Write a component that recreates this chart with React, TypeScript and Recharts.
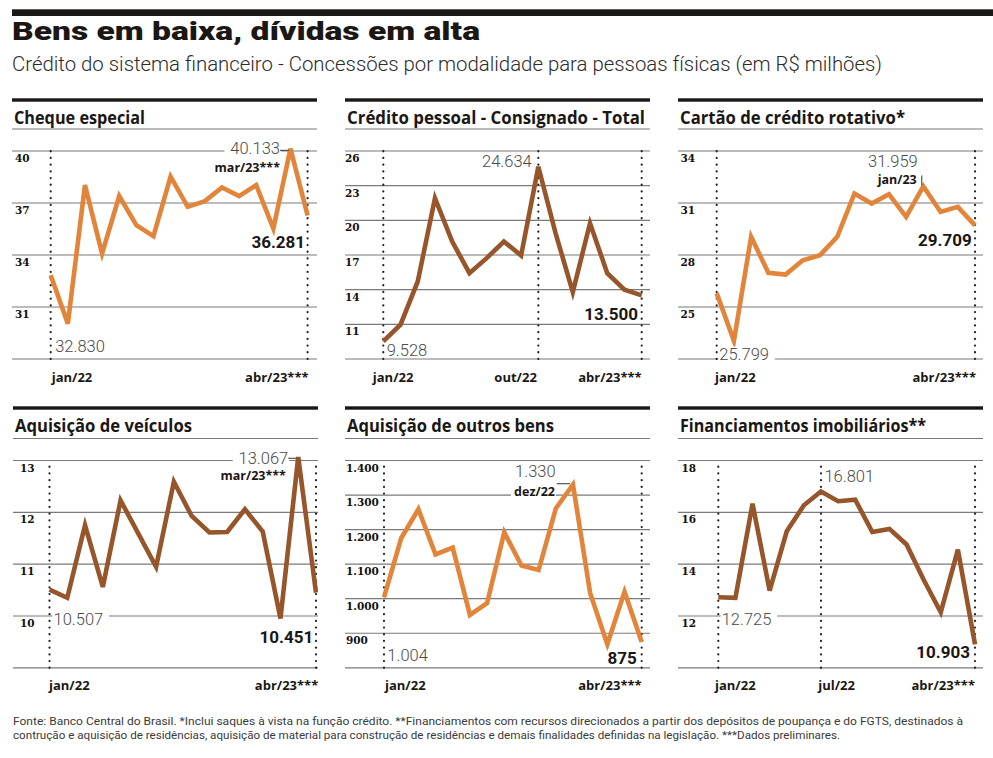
import React from 'react';
import { LineChart, Line, XAxis, YAxis, CartesianGrid, ReferenceLine } from 'recharts';

// ---------- data (R$ millions) ----------
const months = ['jan/22', 'fev/22', 'mar/22', 'abr/22', 'mai/22', 'jun/22', 'jul/22', 'ago/22', 'set/22', 'out/22', 'nov/22', 'dez/22', 'jan/23', 'fev/23', 'mar/23', 'abr/23'];
const preliminaryMonths = ['mar/23', 'abr/23'];

const chequeEspecial = [32830, 30040, 38030, 34080, 37400, 35720, 35090, 38520, 36780, 37110, 37900, 37400, 38030, 35530, 40133, 36281];
const creditoPessoal = [9528, 10970, 14710, 21910, 18170, 15430, 16730, 18170, 16960, 24634, 18890, 13790, 19750, 15430, 14000, 13500];
const cartaoRotativo = [25799, 23040, 29050, 26970, 26870, 27700, 27990, 29050, 31550, 30970, 31510, 30200, 31959, 30490, 30780, 29709];
const veiculos = [10507, 10350, 11750, 10560, 12230, 11590, 10950, 12590, 11930, 11610, 11620, 12060, 11630, 9950, 13067, 10451];
const outrosBens = [1004, 1175, 1259, 1128, 1148, 953, 987, 1192, 1096, 1083, 1261, 1330, 1016, 868, 1020, 875];
const imobiliarios = [12725, 12700, 16330, 12980, 15270, 16270, 16801, 16430, 16490, 15240, 15360, 14760, 13400, 12140, 14560, 10903];

const chequeTicks = [28000, 31000, 34000, 37000, 40000];
const pessoalTicks = [8000, 11000, 14000, 17000, 20000, 23000, 26000];
const cartaoTicks = [22000, 25000, 28000, 31000, 34000];
const veiculosTicks = [9000, 10000, 11000, 12000, 13000];
const outrosTicks = [800, 900, 1000, 1100, 1200, 1300, 1400];
const imobTicks = [10000, 12000, 14000, 16000, 18000];

// ---------- styles ----------
const ORANGE = '#E2843A';
const BROWN = '#96552A';
const INK = '#1a1714';

const fmt = (n: number) => String(Math.round(n)).replace(/\B(?=(\d{3})+(?!\d))/g, '.');
const monthLabel = (m: string) => m + (preliminaryMonths.includes(m) ? '***' : '');

const ROWS = [
  { rule: 100, gridTop: 151, gridBot: 359, titleY: 124 },
  { rule: 407.5, gridTop: 460, gridBot: 667.3, titleY: 431.7 },
];

const PANEL_W = 305;
const CHART_H = 300;
const HEAD = 22;
const XAX_H = 30;

type Ann = {
  i: number;
  kind: 'light' | 'bold' | 'small';
  anchor: 'start' | 'end';
  dx: number;
  dy?: number;
  bottom?: number;
  bg?: boolean;
  h?: [number, number, number];
  v?: [number, number, number];
};

type XLab = { m: string; anchor: 'start' | 'end'; dx: number };

type Cfg = {
  title: string;
  titleLen: number;
  left: number;
  row: number;
  series: number[];
  ticks: number[];
  div: number;
  color: string;
  padL: number;
  padR: number;
  tickDx: number;
  vlines: string[];
  xlabels: XLab[];
  anns: Ann[];
};

const panels: Cfg[] = [
  {
    title: 'Cheque especial', titleLen: 131, left: 12, row: 0, series: chequeEspecial, ticks: chequeTicks, div: 1000,
    color: ORANGE, padL: 38.7, padR: 9.4, tickDx: 3,
    vlines: ['jan/22', 'abr/23'],
    xlabels: [{ m: 'jan/22', anchor: 'start', dx: 1 }, { m: 'abr/23', anchor: 'end', dx: 1 }],
    anns: [
      { i: 0, kind: 'light', anchor: 'start', dx: 4.5, bottom: -7 },
      { i: 14, kind: 'light', anchor: 'end', dx: -10.5, dy: 5.5, bg: true, h: [-10.5, -1.5, 1.7] },
      { i: 14, kind: 'small', anchor: 'end', dx: -10.5, dy: 23 },
      { i: 15, kind: 'bold', anchor: 'end', dx: -2.5, dy: 33 },
    ],
  },
  {
    title: 'Crédito pessoal - Consignado - Total', titleLen: 298, left: 345, row: 0, series: creditoPessoal, ticks: pessoalTicks, div: 1000,
    color: BROWN, padL: 38.3, padR: 8.3, tickDx: 0,
    vlines: ['jan/22', 'out/22', 'abr/23'],
    xlabels: [{ m: 'jan/22', anchor: 'start', dx: -10.5 }, { m: 'out/22', anchor: 'end', dx: -1.5 }, { m: 'abr/23', anchor: 'end', dx: 0 }],
    anns: [
      { i: 0, kind: 'light', anchor: 'start', dx: 3.4, bottom: -3.5 },
      { i: 9, kind: 'light', anchor: 'end', dx: -6.6, dy: 0.7 },
      { i: 15, kind: 'bold', anchor: 'end', dx: -3.7, dy: 24.6 },
    ],
  },
  {
    title: 'Cartão de crédito rotativo*', titleLen: 225, left: 678, row: 0, series: cartaoRotativo, ticks: cartaoTicks, div: 1000,
    color: ORANGE, padL: 38.7, padR: 8, tickDx: 2.5,
    vlines: ['jan/22', 'abr/23'],
    xlabels: [{ m: 'jan/22', anchor: 'start', dx: -1.7 }, { m: 'abr/23', anchor: 'end', dx: 1 }],
    anns: [
      { i: 0, kind: 'light', anchor: 'start', dx: 2.6, bottom: 0.5, bg: true },
      { i: 12, kind: 'light', anchor: 'end', dx: -5.6, dy: -19.8 },
      { i: 12, kind: 'small', anchor: 'end', dx: -6.6, dy: -2.2, v: [-1.6, -11, -1] },
      { i: 15, kind: 'bold', anchor: 'end', dx: -3.3, dy: 21 },
    ],
  },
  {
    title: 'Aquisição de veículos', titleLen: 177, left: 13, row: 1, series: veiculos, ticks: veiculosTicks, div: 1000,
    color: BROWN, padL: 36.5, padR: 2, tickDx: 7,
    vlines: ['jan/22', 'abr/23'],
    xlabels: [{ m: 'jan/22', anchor: 'start', dx: -0.5 }, { m: 'abr/23', anchor: 'end', dx: 2.3 }],
    anns: [
      { i: 0, kind: 'light', anchor: 'start', dx: 4, dy: 35, bg: true },
      { i: 14, kind: 'light', anchor: 'end', dx: -10, dy: 6.8, bg: true, h: [-10, -2.3, 1.3] },
      { i: 14, kind: 'small', anchor: 'end', dx: -12.3, dy: 22.5 },
      { i: 15, kind: 'bold', anchor: 'end', dx: -2.7, dy: 50.4 },
    ],
  },
  {
    title: 'Aquisição de outros bens', titleLen: 207, left: 345, row: 1, series: outrosBens, ticks: outrosTicks, div: 1,
    color: ORANGE, padL: 39, padR: 8.3, tickDx: 1,
    vlines: ['jan/22', 'abr/23'],
    xlabels: [{ m: 'jan/22', anchor: 'start', dx: 1 }, { m: 'abr/23', anchor: 'end', dx: 0 }],
    anns: [
      { i: 0, kind: 'light', anchor: 'start', dx: 3.3, bottom: -6.7 },
      { i: 11, kind: 'light', anchor: 'end', dx: -17.3, dy: -7.2 },
      { i: 11, kind: 'small', anchor: 'end', dx: -18, dy: 11, bg: true, h: [-16.3, -3, -1] },
      { i: 15, kind: 'bold', anchor: 'end', dx: -5, dy: 22.4 },
    ],
  },
  {
    title: 'Financiamentos imobiliários**', titleLen: 246, left: 678, row: 1, series: imobiliarios, ticks: imobTicks, div: 1000,
    color: BROWN, padL: 40.3, padR: 8, tickDx: 3.4,
    vlines: ['jan/22', 'jul/22', 'abr/23'],
    xlabels: [{ m: 'jan/22', anchor: 'start', dx: -3.3 }, { m: 'jul/22', anchor: 'start', dx: -2.7 }, { m: 'abr/23', anchor: 'end', dx: 0 }],
    anns: [
      { i: 0, kind: 'light', anchor: 'start', dx: 3.4, dy: 27.7, bg: true },
      { i: 6, kind: 'light', anchor: 'start', dx: 3.5, dy: -10 },
      { i: 15, kind: 'bold', anchor: 'end', dx: -5, dy: 13.3 },
    ],
  },
];

const KIND_STYLE: Record<string, { fs: number; family: string; weight: number; fill: string; cw: number }> = {
  light: { fs: 16.5, family: 'Roboto', weight: 300, fill: '#4a4a4a', cw: 0.54 },
  bold: { fs: 17, family: 'Roboto', weight: 700, fill: INK, cw: 0.53 },
  small: { fs: 12.5, family: 'Open Sans', weight: 700, fill: INK, cw: 0.56 },
};

function renderAnn(a: Ann, k: number, cx: number, cy: number, bottom: number, value: number, month: string) {
  const st = KIND_STYLE[a.kind];
  const text = a.kind === 'small' ? monthLabel(month) : fmt(value);
  const x = cx + a.dx;
  const y = a.bottom != null ? bottom + a.bottom : cy + (a.dy || 0);
  const w = text.length * st.cw * st.fs;
  const rx = a.anchor === 'start' ? x - 1 : x - w - 2;
  return (
    <g key={k}>
      {a.bg && <rect x={rx} y={y - st.fs * 0.78} width={w + 3} height={st.fs * 0.92} fill="#fff" />}
      {a.h && <line x1={cx + a.h[0]} x2={cx + a.h[1]} y1={cy + a.h[2]} y2={cy + a.h[2]} stroke="#555" strokeWidth={1.2} />}
      {a.v && <line x1={cx + a.v[0]} x2={cx + a.v[0]} y1={cy + a.v[1]} y2={cy + a.v[2]} stroke="#555" strokeWidth={1.2} />}
      <text x={x} y={y} textAnchor={a.anchor} fontFamily={st.family} fontWeight={st.weight} fontSize={st.fs} fill={st.fill}>
        {text}
      </text>
    </g>
  );
}

function Panel({ cfg }: { cfg: Cfg }) {
  const R = ROWS[cfg.row];
  const gridH = R.gridBot - R.gridTop;
  const yMin = cfg.ticks[0];
  const yTop = cfg.ticks[cfg.ticks.length - 1];
  const yMax = yMin + ((yTop - yMin) * (gridH + HEAD)) / gridH;
  const marginTop = R.gridTop - R.rule - HEAD;
  const plotBottom = R.gridBot - R.rule;
  const marginBottom = CHART_H - plotBottom - XAX_H;
  const data = months.map((m, i) => ({ m, v: cfg.series[i] }));

  const renderDot = (p: any) => {
    const { cx, cy, index } = p;
    const list = cfg.anns.filter((a) => a.i === index);
    if (!list.length || cx == null || cy == null) return <g key={`d${index}`} />;
    return (
      <g key={`d${index}`}>
        {list.map((a, k) => renderAnn(a, k, cx, cy, plotBottom, cfg.series[index], months[index]))}
      </g>
    );
  };

  const renderXTick = (p: any) => {
    const { x, y, payload } = p;
    const lab = cfg.xlabels.find((l) => l.m === payload.value);
    if (!lab) return <g />;
    return (
      <text x={x + lab.dx} y={y + 22.5} textAnchor={lab.anchor} fontFamily="Open Sans" fontWeight={700} fontSize={13} fill={INK}>
        {monthLabel(payload.value)}
      </text>
    );
  };

  const renderYTick = (p: any) => {
    const { y, payload } = p;
    if (payload.value === yMin) return <g />;
    return (
      <text x={cfg.tickDx} y={y + 11} textAnchor="start" fontFamily="DejaVu Serif" fontWeight={700} fontSize={10.5} fill="#111">
        {fmt(payload.value / cfg.div)}
      </text>
    );
  };

  return (
    <>
      <svg
        width={PANEL_W}
        height={40}
        style={{ position: 'absolute', left: cfg.left, top: R.rule - 10 }}
      >
        <rect x={0} y={10 - 1.7} width={PANEL_W} height={3.4} fill={INK} />
        <text
          x={2}
          y={R.titleY - (R.rule - 10)}
          fontFamily="Open Sans"
          fontWeight={700}
          fontSize={17}
          fill={INK}
          textLength={cfg.titleLen}
          lengthAdjust="spacingAndGlyphs"
        >
          {cfg.title}
        </text>
      </svg>
      <div style={{ position: 'absolute', left: cfg.left, top: R.rule }}>
        <LineChart
          width={PANEL_W}
          height={CHART_H}
          data={data}
          margin={{ top: marginTop, right: 0, bottom: marginBottom, left: 0 }}
        >
          <CartesianGrid horizontal vertical={false} stroke="#7a7a7a" strokeWidth={1.2} />
          <XAxis
            dataKey="m"
            type="category"
            padding={{ left: cfg.padL, right: cfg.padR }}
            axisLine={false}
            tickLine={false}
            tickSize={0}
            tickMargin={0}
            interval={0}
            height={XAX_H}
            tick={renderXTick}
          />
          <YAxis
            type="number"
            domain={[yMin, yMax]}
            ticks={cfg.ticks}
            mirror
            axisLine={false}
            tickLine={false}
            interval={0}
            tick={renderYTick}
          />
          {cfg.vlines.map((m) => (
            <ReferenceLine
              key={m}
              segment={[{ x: m, y: yMin }, { x: m, y: yTop }]}
              stroke="#222"
              strokeWidth={2.2}
              strokeDasharray="0.1 6.6"
              strokeLinecap="round"
            />
          ))}
          <Line
            type="linear"
            dataKey="v"
            stroke={cfg.color}
            strokeWidth={4.6}
            dot={renderDot}
            activeDot={false}
            isAnimationActive={false}
          />
        </LineChart>
      </div>
    </>
  );
}

export default function App() {
  return (
    <div style={{ position: 'absolute', left: 0, top: 0, width: 993, height: 758, background: '#fff', overflow: 'hidden' }}>
      <svg width={993} height={90} style={{ position: 'absolute', left: 0, top: 0 }}>
        <rect x={12} y={9.3} width={981} height={6.7} fill={INK} />
        <text x={12} y={40} fontFamily="Roboto" fontWeight={900} fontSize={26.5} fill={INK} textLength={468} lengthAdjust="spacingAndGlyphs">
          Bens em baixa, dívidas em alta
        </text>
        <text x={12} y={70.5} fontFamily="Roboto" fontWeight={300} fontSize={20} fill="#2b2b2b" textLength={870} lengthAdjust="spacingAndGlyphs">
          Crédito do sistema financeiro - Concessões por modalidade para pessoas físicas (em R$ milhões)
        </text>
      </svg>
      {panels.map((p) => (
        <Panel key={p.title} cfg={p} />
      ))}
      <svg width={993} height={58} style={{ position: 'absolute', left: 0, top: 700 }}>
        <text x={13} y={25} fontFamily="Roboto" fontWeight={400} fontSize={11} fill="#3a3a3a" textLength={950} lengthAdjust="spacingAndGlyphs">
          Fonte: Banco Central do Brasil. *Inclui saques à vista na função crédito. **Financiamentos com recursos direcionados a partir dos depósitos de poupança e do FGTS, destinados à
        </text>
        <text x={13} y={39.3} fontFamily="Roboto" fontWeight={400} fontSize={11} fill="#3a3a3a" textLength={827} lengthAdjust="spacingAndGlyphs">
          contrução e aquisição de residências, aquisição de material para construção de residências e demais finalidades definidas na legislação. ***Dados preliminares.
        </text>
      </svg>
    </div>
  );
}
